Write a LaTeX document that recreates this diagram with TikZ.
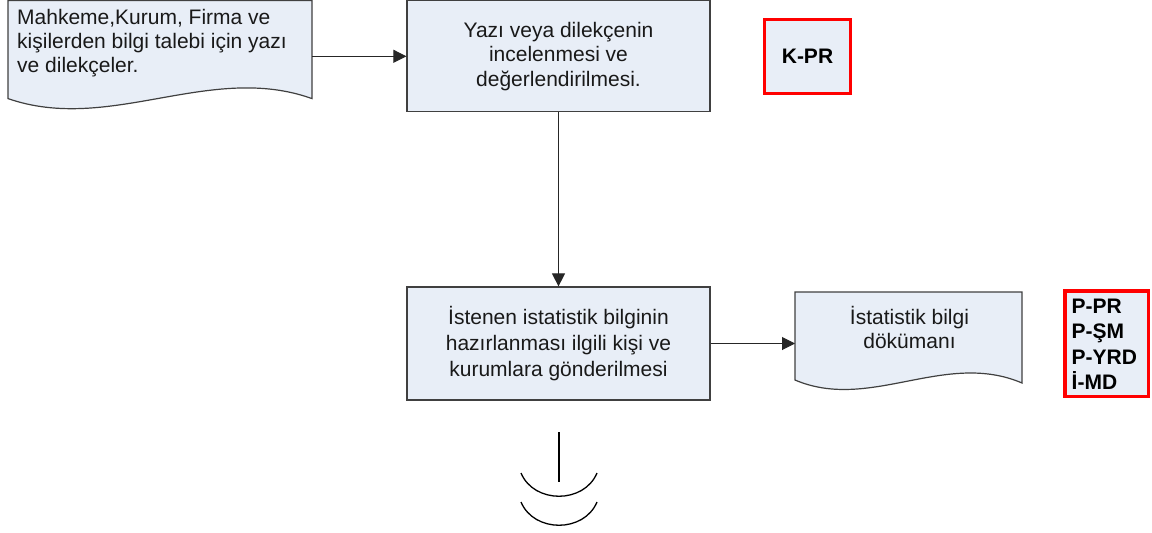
\documentclass[tikz,border=0pt]{standalone}
\usepackage{fontspec}
\setmainfont{Liberation Sans}
\usetikzlibrary{arrows.meta,calc}
\definecolor{boxfill}{RGB}{232,238,247}
\definecolor{boxline}{RGB}{64,64,64}
\begin{document}
\begin{tikzpicture}[x=1pt,y=-1pt,
  procbox/.style={draw=boxline, fill=boxfill, line width=1.2pt, minimum width=303pt, inner sep=0pt},
  region/.style={inner sep=0pt, anchor=north west},
  docshape/.style={draw=boxline, fill=boxfill, line width=1.2pt},
  txt/.style={font=\fontsize{21}{24}\selectfont, align=center, inner sep=0pt, text=black!90},
  redbox/.style={draw=red, fill=boxfill, line width=3.2pt, inner sep=0pt},
  redtxt/.style={font=\bfseries\fontsize{21}{25.6}\selectfont, align=left, inner sep=0pt, text=black},
  conn/.style={draw=black!85, line width=1pt, -{Triangle[length=13pt,width=13pt]}},
  endsym/.style={draw=black, line width=1.3pt},
]
\useasboundingbox (0,0) rectangle (1152,533);

% document 1
\draw[docshape] (8,0.6) -- (312,0.6) -- (312,98.6) .. controls (210,62) and (110,134) .. (8,98.6) -- cycle;
\node[region, minimum width=304pt, minimum height=98pt] (d1) at (8,0.6) {};
\node[txt, align=left, anchor=west] (d1t) at (17,43.5) {Mahkeme,Kurum, Firma ve\\kişilerden bilgi talebi için yazı\\ve dilekçeler.};

% process box 2
\node[procbox, minimum height=111pt, txt, font=\fontsize{21}{24.5}\selectfont] (b2) at (558.5,56.3) {Yazı veya dilekçenin\\incelenmesi ve\\değerlendirilmesi.};

% K-PR
\node[redbox, minimum width=86pt, minimum height=74pt, font=\bfseries\fontsize{21}{24}\selectfont, text=black] (kpr) at (807.5,56.5) {K-PR};

% process box 3
\node[procbox, minimum height=113pt, txt, font=\fontsize{21}{26}\selectfont] (b3) at (558.5,343.5) {İstenen istatistik bilginin\\hazırlanması ilgili kişi ve\\kurumlara gönderilmesi};

% document 2
\draw[docshape] (795,292) -- (1022,292) -- (1022,383) .. controls (945,350) and (870,412) .. (795,380) -- cycle;
\node[region, minimum width=227pt, minimum height=89pt] (d2) at (795,292) {};
\node[txt, font=\fontsize{21}{23.5}\selectfont] (d2t) at (909.5,327.5) {İstatistik bilgi\\dökümanı};

% red box 2
\node[redbox, minimum width=83.5pt, minimum height=105.6pt] (r2) at (1106.7,343.8) {};
\node[redtxt, anchor=west] (r2t) at (1071.5,344.2) {P-PR\\P-ŞM\\P-YRD\\İ-MD};

% connectors
\draw[conn] (b2.west -| d1.east) -- (b2.west);
\draw[conn] (b2.south) -- (b3.north);
\draw[conn] (b3.east) -- (b3.east -| d2.west);

% end symbol
\coordinate (e1) at (559,432);
\coordinate (e2) at (559,482);
\draw[endsym] (e1) -- (e2);
\draw[endsym] (521,473) .. controls (534,504) and (584,504) .. (597,473);
\draw[endsym] (521,502) .. controls (534,533) and (584,533) .. (597,502);
\end{tikzpicture}
\end{document}
